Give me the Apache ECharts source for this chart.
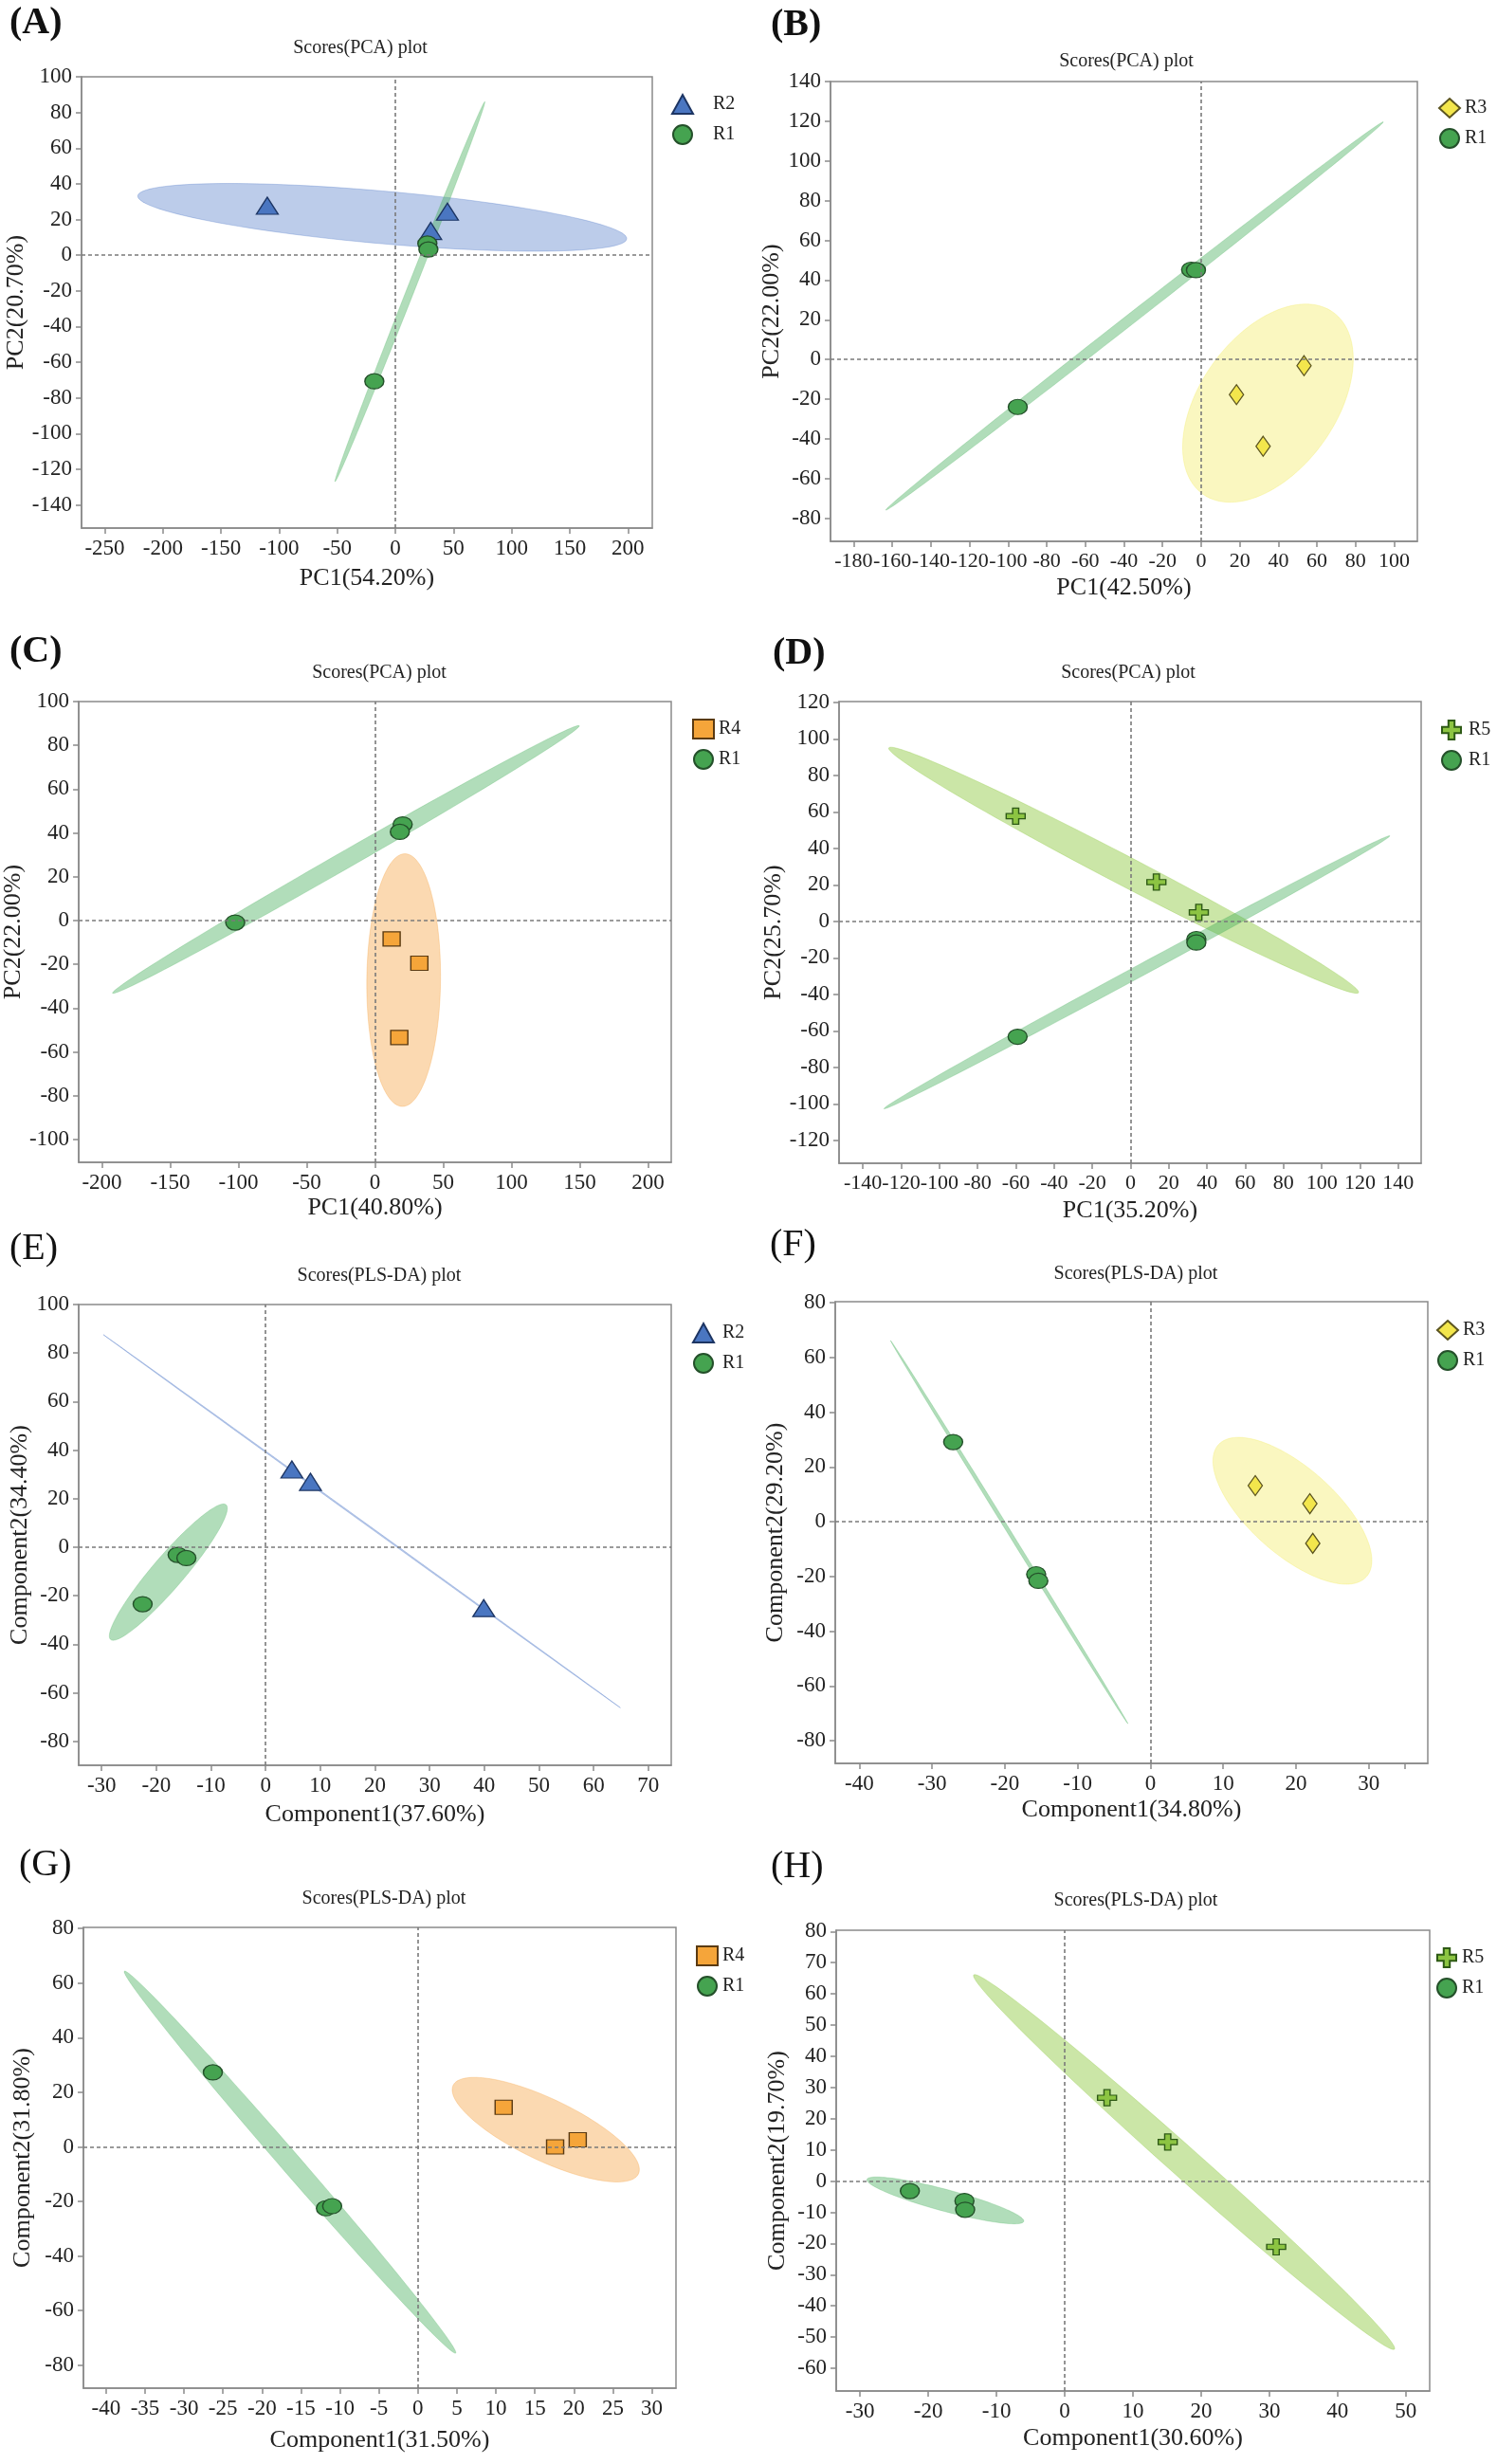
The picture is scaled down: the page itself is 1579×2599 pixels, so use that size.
<!DOCTYPE html>
<html>
<head>
<meta charset="utf-8">
<title>Scores plots</title>
<script src="https://cdn.jsdelivr.net/npm/echarts@6.0.0/dist/echarts.min.js"></script>
<style>
  html, body { margin: 0; padding: 0; background: #fff; }
  #chart { width: 1579px; height: 2599px; }
</style>
</head>
<body>
<div id="chart"></div>
<script>
// ---- data ----
// ellipse = [cx, cy, px, py, qx, qy]: centre and two conjugate half-axes, in data units

// (A) PCA, R2 vs R1
const aR2 = [[-110.2, 27.7], [30.4, 13.6], [44.8, 24.4]];
const aR1 = [[-18.1, -70.7], [27.5, 6.5], [28.4, 3.2]];
const aR2Ellipse = [-11.3, 21.2, 210.3, -11.9, 0, 14.8];
const aR1Ellipse = [12.5, -20.5, 64.4, 106.5, 3.5, 0];
const aXTicks = [-250, -200, -150, -100, -50, 0, 50, 100, 150, 200];
const aYTicks = [-140, -120, -100, -80, -60, -40, -20, 0, 20, 40, 60, 80, 100];

// (B) PCA, R3 vs R1
const bR3 = [[18.3, -17.7], [32.1, -43.7], [53.3, -3.1]];
const bR1 = [[-95.0, -23.9], [-5.2, 45.2], [-2.7, 45.0]];
const bR3Ellipse = [34.6, -22.0, 28.7, 48.4, -33.6, 12.2];
const bR1Ellipse = [-34.5, 21.9, 128.8, 97.8, 4.3, 0];
const bXTicks = [-180, -160, -140, -120, -100, -80, -60, -40, -20, 0, 20, 40, 60, 80, 100];
const bYTicks = [-80, -60, -40, -20, 0, 20, 40, 60, 80, 100, 120, 140];

// (C) PCA, R4 vs R1
const cR4 = [[12.2, -8.4], [32.5, -19.5], [17.8, -53.4]];
const cR1 = [[-102.4, -0.9], [20.3, 43.9], [18.2, 40.5]];
const cR4Ellipse = [21.0, -27.2, 0.9, 57.7, 27.0, 0];
const cR1Ellipse = [-21.3, 27.9, 171.0, 61.0, 0, 4.5];
const cXTicks = [-200, -150, -100, -50, 0, 50, 100, 150, 200];
const cYTicks = [-100, -80, -60, -40, -20, 0, 20, 40, 60, 80, 100];

// (D) PCA, R5 vs R1
const dR5 = [[-60.1, 57.6], [13.5, 21.5], [35.7, 4.9]];
const dR1 = [[-59.1, -63.2], [34.4, -9.7], [34.4, -11.6]];
const dR5Ellipse = [-3.6, 28.0, 122.9, -66.8, 0, 9.0];
const dR1Ellipse = [3.3, -27.9, 132.3, 74.7, 0, 3.6];
const dXTicks = [-140, -120, -100, -80, -60, -40, -20, 0, 20, 40, 60, 80, 100, 120, 140];
const dYTicks = [-120, -100, -80, -60, -40, -20, 0, 20, 40, 60, 80, 100, 120];

// (E) PLS-DA, R2 vs R1
const eR2 = [[4.8, 32.0], [8.2, 26.9], [39.9, -25.1]];
const eR1 = [[-22.5, -23.5], [-16.1, -3.2], [-14.5, -4.5]];
const eR2Ellipse = [17.6, 10.7, 47.3, -76.9, 0.2, 0];
const eR1Ellipse = [-17.8, -10.3, 10.1, 28.1, 3.8, 0];
const eXTicks = [-30, -20, -10, 0, 10, 20, 30, 40, 50, 60, 70];
const eYTicks = [-80, -60, -40, -20, 0, 20, 40, 60, 80, 100];

// (F) PLS-DA, R3 vs R1
const fR3 = [[14.4, 13.2], [21.9, 6.6], [22.3, -7.9]];
const fR1 = [[-27.1, 29.1], [-15.7, -19.2], [-15.4, -21.6]];
const fR3Ellipse = [19.5, 4.0, 9.7, -25.2, 5.0, 9.2];
const fR1Ellipse = [-19.4, -3.8, 16.3, -70.0, 0.3, 0];
const fXTicks = [-40, -30, -20, -10, 0, 10, 20, 30, 35];
const fXLabels = [-40, -30, -20, -10, 0, 10, 20, 30];
const fYTicks = [-80, -60, -40, -20, 0, 20, 40, 60, 80];

// (G) PLS-DA, R4 vs R1
const gR4 = [[11.0, 14.5], [17.6, 0.0], [20.5, 2.6]];
const gR1 = [[-26.3, 27.3], [-11.8, -22.5], [-11.0, -21.7]];
const gR4Ellipse = [16.4, 6.3, 12.0, -14.6, 0, 12.4];
const gR1Ellipse = [-16.4, -5.6, 21.2, -70.0, 1.7, 0];
const gXTicks = [-40, -35, -30, -25, -20, -15, -10, -5, 0, 5, 10, 15, 20, 25, 30];
const gYTicks = [-80, -60, -40, -20, 0, 20, 40, 60, 80];

// (H) PLS-DA, R5 vs R1
const hR5 = [[6.2, 26.7], [15.1, 12.5], [31.0, -21.1]];
const hR1 = [[-22.7, -3.2], [-14.7, -6.4], [-14.6, -9.2]];
const hR5Ellipse = [17.5, 6.1, 30.7, -60.1, 3.3, 0];
const hR1Ellipse = [-17.5, -6.2, 11.5, -6.6, 0, 3.6];
const hXTicks = [-30, -20, -10, 0, 10, 20, 30, 40, 50];
const hYTicks = [-60, -50, -40, -30, -20, -10, 0, 10, 20, 30, 40, 50, 60, 70, 80];

// ---- styles ----
const FONT = '"Liberation Serif", "Times New Roman", serif';
const CIRCLE = 'path://M0,50 A50,50 0 1,0 100,50 A50,50 0 1,0 0,50 Z';
const CROSS = 'path://M34,0 L66,0 L66,34 L100,34 L100,66 L66,66 L66,100 L34,100 L34,66 L0,66 L0,34 L34,34 Z';

const GROUP_STYLE = {
    R1: { symbol: CIRCLE, size: [20, 16], color: '#45a350', border: '#24502a', fill: 'rgba(70,175,90,0.42)', edge: 'rgba(70,175,90,0.25)' },
    R2: { symbol: 'triangle', size: [23, 18], color: '#4a76c1', border: '#1d3563', fill: 'rgba(68,114,196,0.36)', edge: 'rgba(68,114,196,0.3)' },
    R3: { symbol: 'diamond', size: [15, 21], color: '#f3e64c', border: '#5b5420', fill: 'rgba(240,230,60,0.32)', edge: 'rgba(240,230,60,0.25)' },
    R4: { symbol: 'rect', size: [18, 15], color: '#f5a53a', border: '#5a3a12', fill: 'rgba(245,160,60,0.4)', edge: 'rgba(245,160,60,0.3)' },
    R5: { symbol: CROSS, size: [20, 17], color: '#8cc442', border: '#2e5a16', fill: 'rgba(140,200,60,0.45)', edge: 'rgba(140,200,60,0.3)' },
};

const PCA_TITLE = 'Scores(PCA) plot';
const PLS_TITLE = 'Scores(PLS-DA) plot';

const panels = [
    { tag: '(A)', bold: true, title: PCA_TITLE, xName: 'PC1(54.20%)', yName: 'PC2(20.70%)',
      box: [86, 81, 602, 476], xRange: [-270, 221], yRange: [-153, 100], xTicks: aXTicks, yTicks: aYTicks,
      tagPos: [10, 25], titlePos: [380, 51], legendPos: [703, 94, 16], xGap: 40, yGap: 53, xFont: 23,
      groups: [['R2', aR2, aR2Ellipse], ['R1', aR1, aR1Ellipse]] },
    { tag: '(B)', bold: true, title: PCA_TITLE, xName: 'PC1(42.50%)', yName: 'PC2(22.00%)',
      box: [876, 86, 619, 485], xRange: [-192, 112], yRange: [-91.6, 140], xTicks: bXTicks, yTicks: bYTicks,
      tagPos: [813, 27], titlePos: [1188, 65], legendPos: [1512, 98, 0], xGap: 36, yGap: 43, xFont: 22,
      groups: [['R3', bR3, bR3Ellipse], ['R1', bR1, bR1Ellipse]] },
    { tag: '(C)', bold: true, title: PCA_TITLE, xName: 'PC1(40.80%)', yName: 'PC2(22.00%)',
      box: [83, 740, 625, 486], xRange: [-217, 217], yRange: [-110.4, 100], xTicks: cXTicks, yTicks: cYTicks,
      tagPos: [10, 688], titlePos: [400, 710], legendPos: [725, 753, 0], xGap: 35, yGap: 47, xFont: 23,
      groups: [['R4', cR4, cR4Ellipse], ['R1', cR1, cR1Ellipse]] },
    { tag: '(D)', bold: true, title: PCA_TITLE, xName: 'PC1(35.20%)', yName: 'PC2(25.70%)',
      box: [885, 740, 614, 487], xRange: [-152.5, 152], yRange: [-132.5, 120.4], xTicks: dXTicks, yTicks: dYTicks,
      tagPos: [815, 690], titlePos: [1190, 710], legendPos: [1515, 754, 2], xGap: 37, yGap: 44, xFont: 22,
      groups: [['R5', dR5, dR5Ellipse], ['R1', dR1, dR1Ellipse]] },
    { tag: '(E)', bold: false, title: PLS_TITLE, xName: 'Component1(37.60%)', yName: 'Component2(34.40%)',
      box: [83, 1376, 625, 486], xRange: [-34.2, 74.2], yRange: [-89.9, 100], xTicks: eXTicks, yTicks: eYTicks,
      tagPos: [10, 1317], titlePos: [400, 1346], legendPos: [725, 1390, 4], xGap: 39, yGap: 47, xFont: 23,
      groups: [['R2', eR2, eR2Ellipse], ['R1', eR1, eR1Ellipse]] },
    { tag: '(F)', bold: false, title: PLS_TITLE, xName: 'Component1(34.80%)', yName: 'Component2(29.20%)',
      box: [881, 1373, 625, 487], xRange: [-43.3, 38.1], yRange: [-88.3, 80.4], xTicks: fXTicks, xLabels: fXLabels, yTicks: fYTicks,
      tagPos: [812, 1313], titlePos: [1198, 1344], legendPos: [1510, 1387, 0], xGap: 36, yGap: 50, xFont: 23,
      groups: [['R3', fR3, fR3Ellipse], ['R1', fR1, fR1Ellipse]] },
    { tag: '(G)', bold: false, title: PLS_TITLE, xName: 'Component1(31.50%)', yName: 'Component2(31.80%)',
      box: [88, 2033, 625, 486], xRange: [-42.9, 33.1], yRange: [-88.4, 80.4], xTicks: gXTicks, yTicks: gYTicks,
      tagPos: [20, 1967], titlePos: [405, 2003], legendPos: [729, 2047, 0], xGap: 42, yGap: 51, xFont: 23,
      groups: [['R4', gR4, gR4Ellipse], ['R1', gR1, gR1Ellipse]] },
    { tag: '(H)', bold: false, title: PLS_TITLE, xName: 'Component1(30.60%)', yName: 'Component2(19.70%)',
      box: [882, 2036, 626, 486], xRange: [-33.5, 53.5], yRange: [-67.3, 80.4], xTicks: hXTicks, yTicks: hYTicks,
      tagPos: [813, 1969], titlePos: [1198, 2005], legendPos: [1510, 2049, 0], xGap: 37, yGap: 49, xFont: 23,
      groups: [['R5', hR5, hR5Ellipse], ['R1', hR1, hR1Ellipse]] },
];

// confidence ellipse drawn through the axis scales
function ellipseRenderer(fill, edge) {
    return function (params, api) {
        const cx = api.value(0), cy = api.value(1);
        const px = api.value(2), py = api.value(3);
        const qx = api.value(4), qy = api.value(5);
        const points = [];
        for (let k = 0; k < 120; k++) {
            const t = 2 * Math.PI * k / 120;
            points.push(api.coord([
                cx + Math.cos(t) * px + Math.sin(t) * qx,
                cy + Math.cos(t) * py + Math.sin(t) * qy,
            ]));
        }
        return {
            type: 'polygon',
            shape: { points: points },
            style: { fill: fill, stroke: edge, lineWidth: 1 },
        };
    };
}

const grid = [], xAxis = [], yAxis = [], series = [], legend = [], graphic = [];
const AXIS_COLOR = '#8a8a8a';

panels.forEach((p, i) => {
    grid.push({
        left: p.box[0], top: p.box[1], width: p.box[2], height: p.box[3],
        show: true, borderColor: AXIS_COLOR, borderWidth: 1.5, backgroundColor: 'transparent',
    });

    const axisCommon = {
        gridIndex: i,
        type: 'value',
        nameLocation: 'middle',
        nameTextStyle: { fontFamily: FONT, fontSize: 26, color: '#222' },
        axisLine: { show: true, onZero: false, lineStyle: { color: AXIS_COLOR, width: 1.5 } },
        splitLine: { show: false },
    };
    const labelCommon = { fontFamily: FONT, fontSize: 23, color: '#222', margin: 10, hideOverlap: false };
    xAxis.push({
        ...axisCommon,
        min: p.xRange[0], max: p.xRange[1],
        name: p.xName, nameGap: p.xGap,
        axisTick: { show: true, length: 6, customValues: p.xTicks, lineStyle: { color: AXIS_COLOR, width: 1.5 } },
        axisLabel: { ...labelCommon, fontSize: p.xFont, customValues: p.xLabels || p.xTicks },
    });
    yAxis.push({
        ...axisCommon,
        min: p.yRange[0], max: p.yRange[1],
        name: p.yName, nameGap: p.yGap,
        axisTick: { show: true, length: 6, customValues: p.yTicks, lineStyle: { color: AXIS_COLOR, width: 1.5 } },
        axisLabel: { ...labelCommon, customValues: p.yTicks },
    });

    // ellipses below the points
    p.groups.forEach(g => {
        const st = GROUP_STYLE[g[0]];
        series.push({
            type: 'custom',
            name: g[0] + ' ellipse',
            xAxisIndex: i, yAxisIndex: i,
            data: [g[2]],
            renderItem: ellipseRenderer(st.fill, st.edge),
            silent: true,
            clip: true,
            z: 1,
        });
    });

    p.groups.forEach((g, k) => {
        const st = GROUP_STYLE[g[0]];
        const s = {
            type: 'scatter',
            name: g[0],
            xAxisIndex: i, yAxisIndex: i,
            data: g[1],
            symbol: st.symbol,
            symbolSize: st.size,
            itemStyle: { color: st.color, borderColor: st.border, borderWidth: 1.3, opacity: 1 },
            z: 3,
        };
        if (k === 0) {
            s.markLine = {
                silent: true,
                symbol: ['none', 'none'],
                label: { show: false },
                lineStyle: { color: '#7a7a7a', type: [4, 3], width: 1.6 },
                data: [{ xAxis: 0 }, { yAxis: 0 }],
            };
        }
        series.push(s);
    });

    legend.push({
        orient: 'vertical',
        left: p.legendPos[0], top: p.legendPos[1],
        itemWidth: 22, itemHeight: 20, itemGap: 10,
        selectedMode: false,
        textStyle: { fontFamily: FONT, fontSize: 20, color: '#222', padding: [0, 0, 0, p.legendPos[2]] },
        data: p.groups.map(g => ({ name: g[0], icon: GROUP_STYLE[g[0]].symbol })),
    });

    graphic.push({
        type: 'text', x: p.tagPos[0], y: p.tagPos[1],
        style: { text: p.tag, fontFamily: FONT, fontSize: 40, fontWeight: p.bold ? 'bold' : 'normal', fill: '#111', align: 'left', verticalAlign: 'middle' },
    });
    graphic.push({
        type: 'text', x: p.titlePos[0], y: p.titlePos[1],
        style: { text: p.title, fontFamily: FONT, fontSize: 20, fill: '#222', align: 'center', verticalAlign: 'middle' },
    });
});

const myChart = echarts.init(document.getElementById('chart'));
myChart.setOption({
    animation: false,
    backgroundColor: '#fff',
    grid: grid,
    xAxis: xAxis,
    yAxis: yAxis,
    legend: legend,
    graphic: graphic,
    series: series,
});
</script>
</body>
</html>
